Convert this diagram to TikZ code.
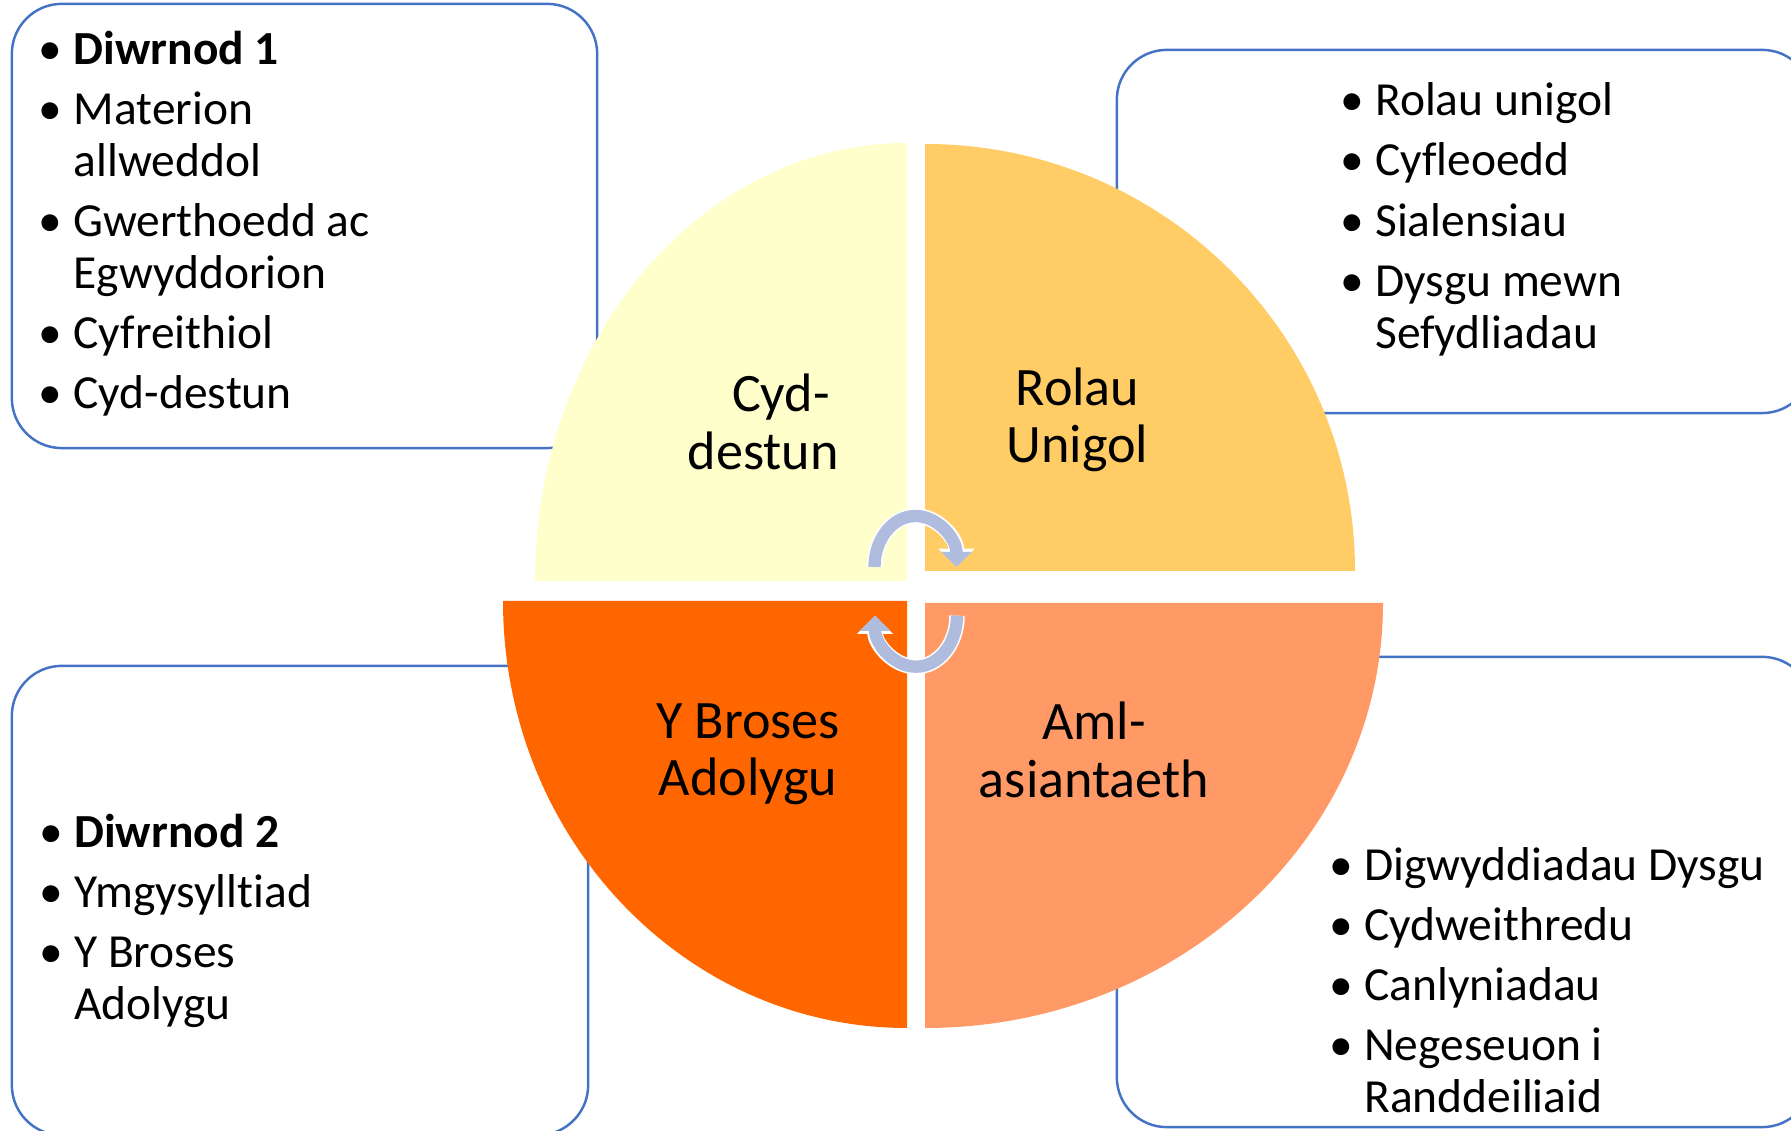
\documentclass[tikz,border=0pt]{standalone}
\usepackage{fontspec}
\setmainfont{Carlito}[Ligatures=NoCommon]
\usetikzlibrary{arrows.meta}
\definecolor{boxblue}{HTML}{4472C4}
\definecolor{paleyellow}{HTML}{FFFFCC}
\definecolor{goldyellow}{HTML}{FFCC66}
\definecolor{deeporange}{HTML}{FF6600}
\definecolor{softorange}{HTML}{FF9966}
\definecolor{arrowblue}{HTML}{B0BCDE}
\tikzstyle{rounded box} = [rectangle, rounded corners=0.5cm, draw=boxblue, line width=0.7pt]
\tikzstyle{bullet list} = [anchor=base west, align=left, inner sep=0pt, font=\fontsize{13.5}{14.8}\selectfont]
\tikzstyle{quarter label} = [anchor=base, align=center, inner sep=0pt, font=\fontsize{15.4}{16.4}\selectfont]
\tikzstyle{cycle halo} = [line width=4.4pt, white, -{Triangle[width=10pt,length=5.2pt]}]
\tikzstyle{cycle arrow} = [line width=3.5pt, arrowblue, -{Triangle[width=8.5pt,length=4.3pt]}]
\newcommand{\bul}{\makebox[3.5mm][l]{•}}
\newcommand{\ind}{\hspace*{3.5mm}}

\begin{document}
\begin{tikzpicture}[x=0.01cm, y=0.01cm]
        \path[use as bounding box, clip] (0,0) rectangle (1791,1131);

            \node (boxA) [rounded box, minimum width=5.85cm, minimum height=4.44cm] at (304.5,905) { };
            \node (boxB) [rounded box, minimum width=6.95cm, minimum height=3.63cm] at (1464.5,899.5) { };
            \node (boxC) [rounded box, minimum width=5.76cm, minimum height=4.69cm] at (300,230.5) { };
            \node (boxD) [rounded box, minimum width=6.95cm, minimum height=4.70cm] at (1464.5,239) { };

            \fill[paleyellow] (907,550) -- (535,550) arc[start angle=180, end angle=90, x radius=372, y radius=438] -- cycle;
            \fill[goldyellow] (925,560) -- (925,987) arc[start angle=90, end angle=0, x radius=430, y radius=427] -- cycle;
            \fill[deeporange] (907,530) -- (503,530) arc[start angle=180, end angle=270, x radius=404, y radius=427] -- cycle;
            \fill[softorange] (925,528) -- (1383,528) arc[start angle=0, end angle=-90, x radius=458, y radius=425] -- cycle;

            \node (context) [quarter label, align=right, anchor=base east] at (839.5,661.7) {Cyd-\hspace*{0.09cm}\\destun};
            \node (roles) [quarter label] at (1077.5,668) {Rolau\\Unigol};
            \node (review) [quarter label] at (748,335) {Y Broses\\Adolygu};
            \node (agency) [quarter label] at (1094,333.7) {Aml-\\asiantaeth};

            \node (dayone) [bullet list] at (38,722) {\bul\textbf{Diwrnod 1}\\[2.3pt]\bul Materion\\\ind allweddol\\[2.3pt]\bul Gwerthoedd ac\\\ind Egwyddorion\\[2.3pt]\bul Cyfreithiol\\[2.3pt]\bul Cyd-destun};
            \node (roleslist) [bullet list] at (1339.5,782.7) {\bul Rolau unigol\\[2.3pt]\bul Cyfleoedd\\[2.3pt]\bul Sialensiau\\[2.3pt]\bul Dysgu mewn\\\ind Sefydliadau};
            \node (daytwo) [bullet list] at (38.5,111) {\bul\textbf{Diwrnod 2}\\[2.3pt]\bul Ymgysylltiad\\[2.3pt]\bul Y Broses\\\ind Adolygu};
            \node (agencylist) [bullet list] at (1328.5,18.3) {\bul Digwyddiadau Dysgu\\[2.3pt]\bul Cydweithredu\\[2.3pt]\bul Canlyniadau\\[2.3pt]\bul Negeseuon i\\\ind Randdeiliaid};

            \coordinate (turnA) at (874.5,564);
            \coordinate (turnB) at (957,515.3);
            \draw[cycle halo] (turnA) arc[start angle=180, end angle=0, x radius=41, y radius=51];
            \draw[cycle arrow] (turnA) arc[start angle=180, end angle=0, x radius=41, y radius=51];
            \draw[cycle halo] (turnB) arc[start angle=0, end angle=-180, x radius=41, y radius=51];
            \draw[cycle arrow] (turnB) arc[start angle=0, end angle=-180, x radius=41, y radius=51];

    \end{tikzpicture}
\end{document}
